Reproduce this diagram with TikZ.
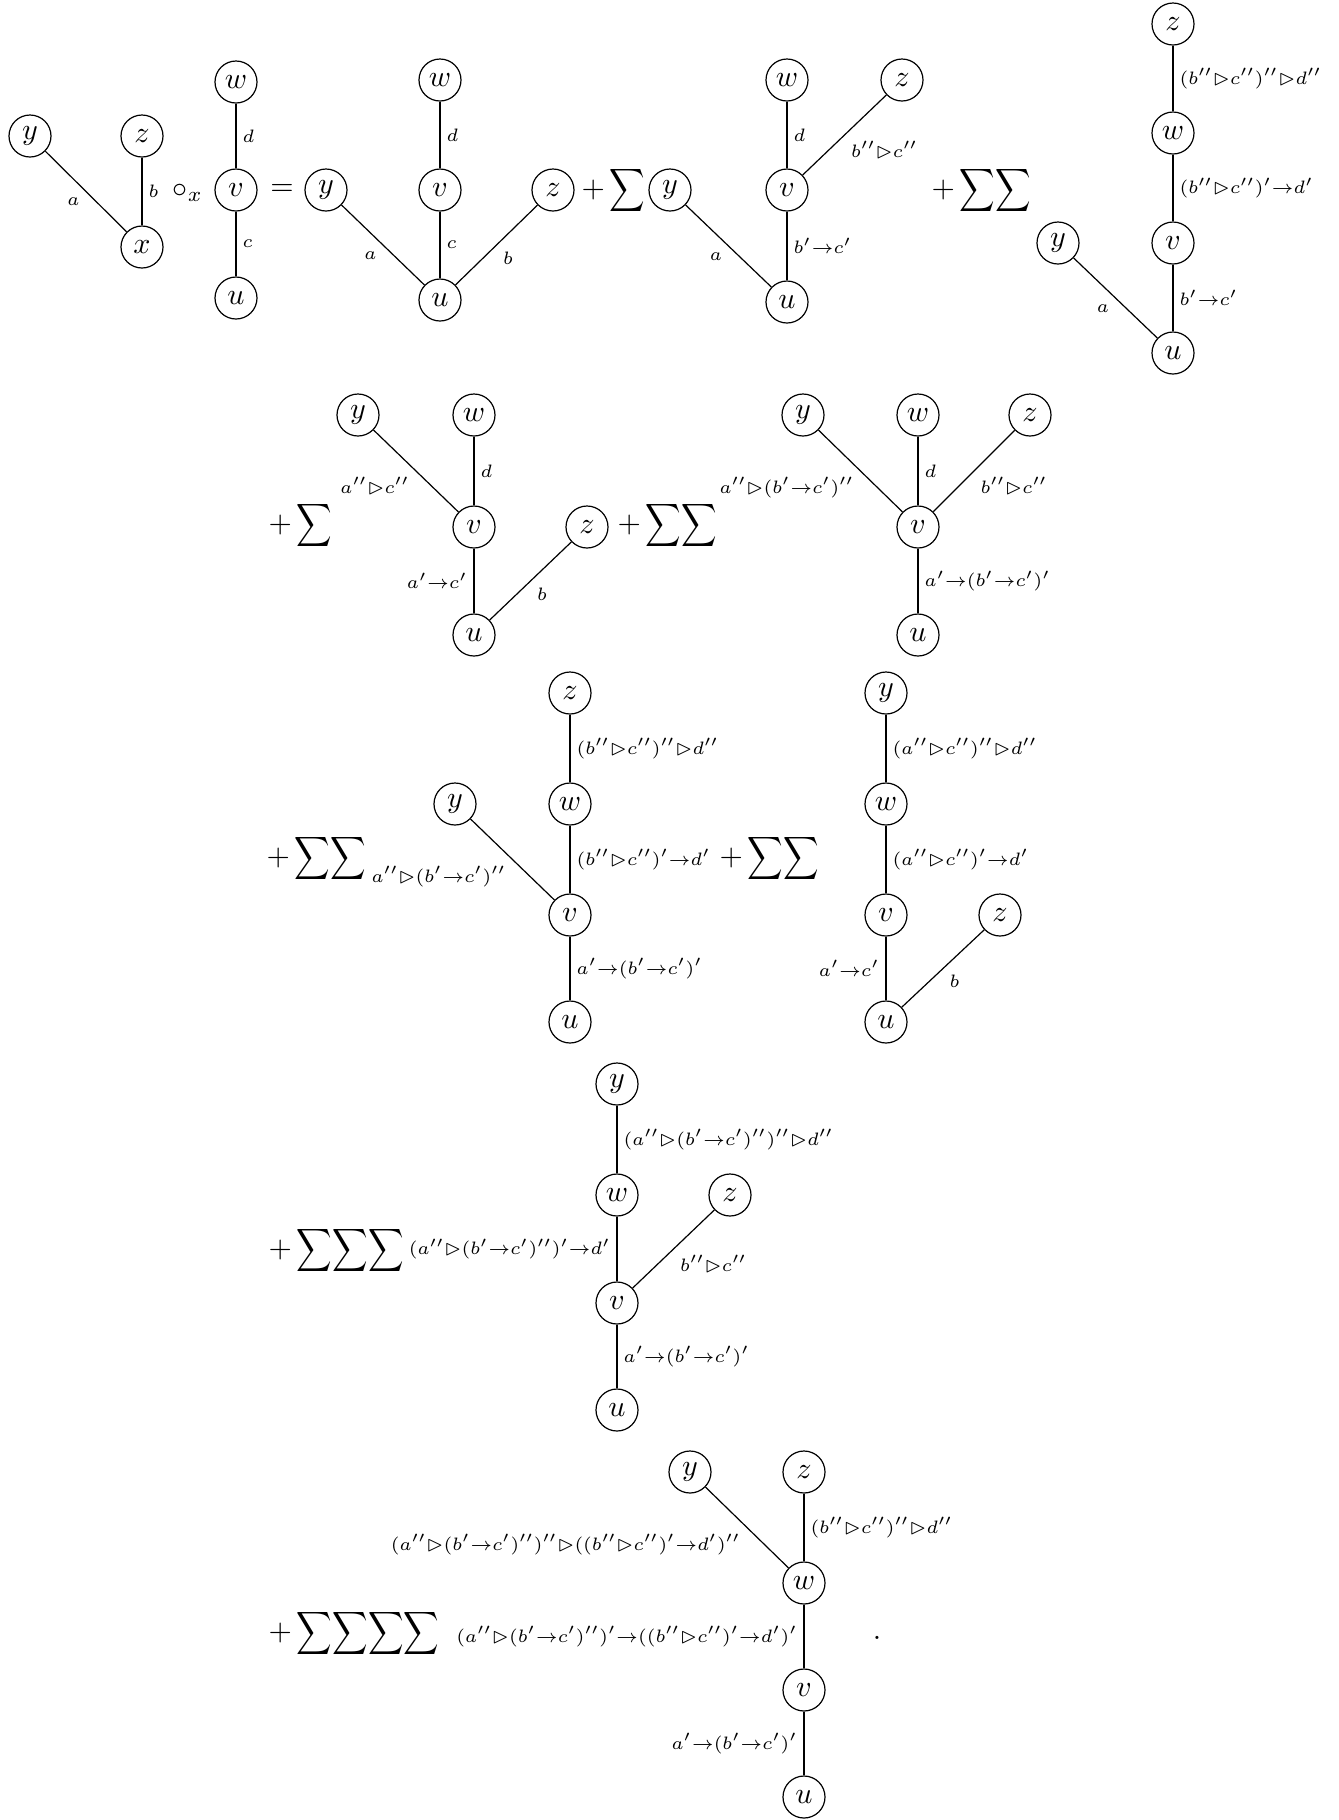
\documentclass[tikz,border=0pt]{standalone}
\usepackage{amssymb}
\usepackage{graphicx}
\usepackage{tikz}

\newcommand{\sumx}{\scalebox{0.82}[1]{$\displaystyle\sum$}}
\newcommand{\rt}{\vartriangleright}

\tikzset{
    vtx/.style={draw, circle, minimum size=14pt, inner sep=1pt},
    lbl/.style={inner sep=2pt, font=\fontsize{9.2}{11}\selectfont,
        execute at begin node=$\scriptstyle, execute at end node=$},
    op/.style={inner sep=0pt, anchor=west}
}

\begin{document}
\begin{tikzpicture}[x=0.3333pt, y=-0.3333pt]
    \useasboundingbox (0,0) rectangle (1338,1820);

    % First factor
    \node[vtx] (ya) at (30,136) {$y$};
    \node[vtx] (za) at (142,136) {$z$};
    \node[vtx] (xa) at (142,247) {$x$};
    \draw (ya) -- node[lbl, below left] {a} (xa);
    \draw (za) -- node[lbl, right] {b} (xa);
    \node (circ) at (188,193) {$\circ_x$};

    % Second factor
    \node[vtx] (wb) at (236,82) {$w$};
    \node[vtx] (vb) at (236,190) {$v$};
    \node[vtx] (ub) at (236,298) {$u$};
    \draw (wb) -- node[lbl, right] {d} (vb);
    \draw (vb) -- node[lbl, right] {c} (ub);
    \node (eq) at (282,190) {$=$};

    % Term 1
    \node[vtx] (yc) at (326,190) {$y$};
    \node[vtx] (wc) at (440,80) {$w$};
    \node[vtx] (vc) at (440,190) {$v$};
    \node[vtx] (uc) at (440,300) {$u$};
    \node[vtx] (zc) at (553,190) {$z$};
    \draw (yc) -- node[lbl, below left] {a} (uc);
    \draw (wc) -- node[lbl, right] {d} (vc);
    \draw (vc) -- node[lbl, right] {c} (uc);
    \draw (zc) -- node[lbl, below right] {b} (uc);
    \node[op] (sc) at (581,190) {$+\,$\sumx};

    % Term 2
    \node[vtx] (yd) at (670,190) {$y$};
    \node[vtx] (wd) at (787,80) {$w$};
    \node[vtx] (vd) at (787,190) {$v$};
    \node[vtx] (ud) at (787,302) {$u$};
    \node[vtx] (zd) at (902,80) {$z$};
    \draw (yd) -- node[lbl, below left] {a} (ud);
    \draw (wd) -- node[lbl, right] {d} (vd);
    \draw (vd) -- node[lbl, right] {b'\to c'} (ud);
    \draw (vd) -- node[lbl, below right] {b''\rt c''} (zd);
    \node[op] (sd) at (931,190) {$+\,$\sumx\sumx};

    % Term 3
    \node[vtx] (ze) at (1173,24) {$z$};
    \node[vtx] (we) at (1173,133) {$w$};
    \node[vtx] (ve) at (1173,243) {$v$};
    \node[vtx] (ue) at (1173,353) {$u$};
    \node[vtx] (ye) at (1058,243) {$y$};
    \draw (ze) -- node[lbl, right] {(b''\rt c'')''\rt d''} (we);
    \draw (we) -- node[lbl, right] {(b''\rt c'')'\to d'} (ve);
    \draw (ve) -- node[lbl, right] {b'\to c'} (ue);
    \draw (ye) -- node[lbl, below left] {a} (ue);

    % Term 4
    \node[op] (sf) at (268,525) {$+\,$\sumx};
    \node[vtx] (yf) at (358,415) {$y$};
    \node[vtx] (wf) at (474,415) {$w$};
    \node[vtx] (vf) at (474,527) {$v$};
    \node[vtx] (uf) at (474,635) {$u$};
    \node[vtx] (zf) at (587,527) {$z$};
    \draw (yf) -- node[lbl, below left] {a''\rt c''} (vf);
    \draw (wf) -- node[lbl, right] {d} (vf);
    \draw (vf) -- node[lbl, left] {a'\to c'} (uf);
    \draw (zf) -- node[lbl, below right] {b} (uf);

    % Term 5
    \node[op] (sg) at (617,525) {$+\,$\sumx\sumx};
    \node[vtx] (yg) at (803,415) {$y$};
    \node[vtx] (wg) at (918,415) {$w$};
    \node[vtx] (zg) at (1030,415) {$z$};
    \node[vtx] (vg) at (918,527) {$v$};
    \node[vtx] (ug) at (918,635) {$u$};
    \draw (yg) -- node[lbl, below left] {a''\rt(b'\to c')''} (vg);
    \draw (wg) -- node[lbl, right] {d} (vg);
    \draw (vg) -- node[lbl, below right] {b''\rt c''} (zg);
    \draw (vg) -- node[lbl, right] {a'\to(b'\to c')'} (ug);

    % Term 6
    \node[op] (sh) at (266,858) {$+\,$\sumx\sumx};
    \node[vtx] (zh) at (570,693) {$z$};
    \node[vtx] (wh) at (570,804) {$w$};
    \node[vtx] (vh) at (570,915) {$v$};
    \node[vtx] (uh) at (570,1022) {$u$};
    \node[vtx] (yh) at (455,804) {$y$};
    \draw (zh) -- node[lbl, right] {(b''\rt c'')''\rt d''} (wh);
    \draw (wh) -- node[lbl, right] {(b''\rt c'')'\to d'} (vh);
    \draw (yh) -- node[lbl, below left] {a''\rt(b'\to c')''} (vh);
    \draw (vh) -- node[lbl, right] {a'\to(b'\to c')'} (uh);

    % Term 7
    \node[op] (si) at (719,858) {$+\,$\sumx\sumx};
    \node[vtx] (yi) at (886,693) {$y$};
    \node[vtx] (wi) at (886,804) {$w$};
    \node[vtx] (vi) at (886,915) {$v$};
    \node[vtx] (ui) at (886,1022) {$u$};
    \node[vtx] (zi) at (1000,915) {$z$};
    \draw (yi) -- node[lbl, right] {(a''\rt c'')''\rt d''} (wi);
    \draw (wi) -- node[lbl, right] {(a''\rt c'')'\to d'} (vi);
    \draw (vi) -- node[lbl, left] {a'\to c'} (ui);
    \draw (zi) -- node[lbl, below right] {b} (ui);

    % Term 8
    \node[op] (sj) at (268,1250) {$+\,$\sumx\sumx\sumx};
    \node[vtx] (yj) at (617,1084) {$y$};
    \node[vtx] (wj) at (617,1195) {$w$};
    \node[vtx] (vj) at (617,1303) {$v$};
    \node[vtx] (uj) at (617,1410) {$u$};
    \node[vtx] (zj) at (730,1195) {$z$};
    \draw (yj) -- node[lbl, right] {(a''\rt(b'\to c')'')''\rt d''} (wj);
    \draw (wj) -- node[lbl, left] {(a''\rt(b'\to c')'')'\to d'} (vj);
    \draw (zj) -- node[lbl, below right] {b''\rt c''} (vj);
    \draw (vj) -- node[lbl, right] {a'\to(b'\to c')'} (uj);

    % Term 9
    \node[op] (sk) at (268,1633) {$+\,$\sumx\sumx\sumx\sumx};
    \node[vtx] (yk) at (690,1472) {$y$};
    \node[vtx] (zk) at (804,1472) {$z$};
    \node[vtx] (wk) at (804,1583) {$w$};
    \node[vtx] (vk) at (804,1690) {$v$};
    \node[vtx] (uk) at (804,1797) {$u$};
    \draw (yk) -- node[lbl, below left] {(a''\rt(b'\to c')'')''\rt((b''\rt c'')'\to d')''} (wk);
    \draw (zk) -- node[lbl, right] {(b''\rt c'')''\rt d''} (wk);
    \draw (wk) -- node[lbl, left] {(a''\rt(b'\to c')'')'\to((b''\rt c'')'\to d')'} (vk);
    \draw (vk) -- node[lbl, left] {a'\to(b'\to c')'} (uk);
    \node (dot) at (877,1638) {.};

\end{tikzpicture}
\end{document}
